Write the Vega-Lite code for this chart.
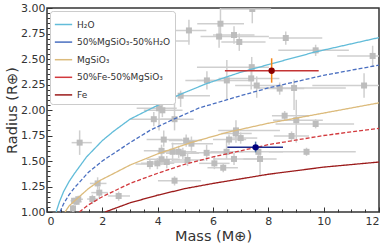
{
  "$schema": "https://vega.github.io/schema/vega-lite/v6.json",
  "width": 332,
  "height": 204,
  "autosize": {"type": "none"},
  "padding": {"left": 47, "top": 8, "right": 12, "bottom": 35},
  "config": {
    "font": "DejaVu Sans",
    "view": {"stroke": "#333333", "strokeWidth": 1.5},
    "axis": {"labelColor": "#333333", "titleColor": "#333333", "labelFontSize": 11, "titleFontSize": 14.5, "titleFontWeight": "normal", "grid": false, "domain": false, "tickColor": "#333333"}
  },
  "datasets": {
    "planets": [
      {"m": 6.27, "mlo": 5.43, "mhi": 7.12, "r": 2.846, "rlo": 2.69, "rhi": 3.05},
      {"m": 6.22, "mlo": 5.55, "mhi": 8.02, "r": 2.72, "rlo": 2.61, "rhi": 2.85},
      {"m": 6.76, "mlo": 6.0, "mhi": 7.5, "r": 2.735, "rlo": 2.65, "rhi": 2.82},
      {"m": 6.95, "mlo": 6.3, "mhi": 7.9, "r": 2.667, "rlo": 2.58, "rhi": 2.75},
      {"m": 7.42, "mlo": 6.27, "mhi": 8.1, "r": 2.99, "rlo": 2.85, "rhi": 3.1},
      {"m": 5.13, "mlo": 4.49, "mhi": 5.76, "r": 2.78, "rlo": 2.64, "rhi": 2.885},
      {"m": 4.16, "mlo": 3.7, "mhi": 5.15, "r": 2.676, "rlo": 2.52, "rhi": 2.85},
      {"m": 8.63, "mlo": 8.02, "mhi": 9.95, "r": 2.706, "rlo": 2.64, "rhi": 2.77},
      {"m": 9.71, "mlo": 8.36, "mhi": 10.91, "r": 2.585, "rlo": 2.53, "rhi": 2.64},
      {"m": 11.77, "mlo": 10.49, "mhi": 12.5, "r": 2.53, "rlo": 2.43, "rhi": 2.63},
      {"m": 7.40, "mlo": 5.42, "mhi": 8.02, "r": 2.42, "rlo": 2.28, "rhi": 2.52},
      {"m": 7.38, "mlo": 6.2, "mhi": 8.4, "r": 2.31, "rlo": 2.2, "rhi": 2.4},
      {"m": 6.50, "mlo": 5.41, "mhi": 7.46, "r": 2.29, "rlo": 2.10, "rhi": 2.49},
      {"m": 5.78, "mlo": 5.0, "mhi": 6.6, "r": 2.29, "rlo": 2.2, "rhi": 2.38},
      {"m": 7.58, "mlo": 6.8, "mhi": 8.5, "r": 2.24, "rlo": 2.12, "rhi": 2.33},
      {"m": 8.41, "mlo": 7.9, "mhi": 9.3, "r": 2.21, "rlo": 2.15, "rhi": 2.27},
      {"m": 8.93, "mlo": 7.6, "mhi": 10.8, "r": 2.216, "rlo": 2.0, "rhi": 2.30},
      {"m": 11.46, "mlo": 9.59, "mhi": 12.5, "r": 2.24, "rlo": 2.12, "rhi": 2.36},
      {"m": 3.66, "mlo": 3.12, "mhi": 4.33, "r": 2.196, "rlo": 2.13, "rhi": 2.25},
      {"m": 4.83, "mlo": 4.14, "mhi": 5.89, "r": 2.14, "rlo": 2.03, "rhi": 2.19},
      {"m": 4.05, "mlo": 3.24, "mhi": 4.69, "r": 2.017, "rlo": 1.80, "rhi": 2.13},
      {"m": 4.17, "mlo": 3.5, "mhi": 4.9, "r": 1.997, "rlo": 1.93, "rhi": 2.07},
      {"m": 3.86, "mlo": 3.0, "mhi": 4.81, "r": 1.91, "rlo": 1.84, "rhi": 1.98},
      {"m": 4.61, "mlo": 4.1, "mhi": 5.3, "r": 1.91, "rlo": 1.80, "rhi": 2.196},
      {"m": 8.59, "mlo": 8.13, "mhi": 9.47, "r": 1.944, "rlo": 1.90, "rhi": 1.99},
      {"m": 9.01, "mlo": 8.17, "mhi": 9.97, "r": 1.90, "rlo": 1.68, "rhi": 2.10},
      {"m": 9.71, "mlo": 8.26, "mhi": 11.1, "r": 1.863, "rlo": 1.82, "rhi": 1.91},
      {"m": 8.84, "mlo": 8.2, "mhi": 9.47, "r": 1.745, "rlo": 1.70, "rhi": 1.79},
      {"m": 6.83, "mlo": 6.19, "mhi": 8.42, "r": 1.80, "rlo": 1.68, "rhi": 1.90},
      {"m": 6.82, "mlo": 6.3, "mhi": 7.4, "r": 1.77, "rlo": 1.72, "rhi": 1.83},
      {"m": 7.0, "mlo": 6.5, "mhi": 7.6, "r": 1.725, "rlo": 1.67, "rhi": 1.78},
      {"m": 6.58, "mlo": 6.0, "mhi": 7.2, "r": 1.71, "rlo": 1.66, "rhi": 1.76},
      {"m": 5.22, "mlo": 4.5, "mhi": 6.0, "r": 1.67, "rlo": 1.60, "rhi": 1.74},
      {"m": 5.03, "mlo": 4.4, "mhi": 5.6, "r": 1.70, "rlo": 1.64, "rhi": 1.76},
      {"m": 4.22, "mlo": 3.6, "mhi": 4.9, "r": 1.71, "rlo": 1.64, "rhi": 1.80},
      {"m": 1.18, "mlo": 0.89, "mhi": 1.62, "r": 1.68, "rlo": 1.56, "rhi": 1.80},
      {"m": 4.14, "mlo": 3.5, "mhi": 4.7, "r": 1.60, "rlo": 1.54, "rhi": 1.66},
      {"m": 4.54, "mlo": 4.0, "mhi": 5.2, "r": 1.59, "rlo": 1.50, "rhi": 1.68},
      {"m": 4.76, "mlo": 4.2, "mhi": 5.4, "r": 1.59, "rlo": 1.53, "rhi": 1.65},
      {"m": 4.91, "mlo": 4.3, "mhi": 5.5, "r": 1.575, "rlo": 1.52, "rhi": 1.63},
      {"m": 4.14, "mlo": 3.6, "mhi": 4.8, "r": 1.517, "rlo": 1.46, "rhi": 1.57},
      {"m": 4.33, "mlo": 3.8, "mhi": 5.0, "r": 1.49, "rlo": 1.43, "rhi": 1.55},
      {"m": 3.72, "mlo": 3.2, "mhi": 4.3, "r": 1.47, "rlo": 1.42, "rhi": 1.52},
      {"m": 3.99, "mlo": 3.4, "mhi": 4.6, "r": 1.477, "rlo": 1.42, "rhi": 1.53},
      {"m": 5.08, "mlo": 4.5, "mhi": 5.7, "r": 1.51, "rlo": 1.45, "rhi": 1.57},
      {"m": 5.77, "mlo": 5.2, "mhi": 6.4, "r": 1.58, "rlo": 1.50, "rhi": 1.66},
      {"m": 6.49, "mlo": 5.9, "mhi": 7.1, "r": 1.59, "rlo": 1.52, "rhi": 1.70},
      {"m": 7.64, "mlo": 6.87, "mhi": 8.53, "r": 1.59, "rlo": 1.53, "rhi": 1.65},
      {"m": 9.38, "mlo": 8.02, "mhi": 11.16, "r": 1.59, "rlo": 1.55, "rhi": 1.63},
      {"m": 6.05, "mlo": 5.5, "mhi": 6.6, "r": 1.477, "rlo": 1.42, "rhi": 1.54},
      {"m": 6.76, "mlo": 6.0, "mhi": 7.6, "r": 1.52, "rlo": 1.46, "rhi": 1.58},
      {"m": 6.37, "mlo": 5.8, "mhi": 6.9, "r": 1.434, "rlo": 1.39, "rhi": 1.48},
      {"m": 7.70, "mlo": 7.1, "mhi": 8.3, "r": 1.52, "rlo": 1.36, "rhi": 1.61},
      {"m": 4.61, "mlo": 4.01, "mhi": 5.57, "r": 1.307, "rlo": 1.26, "rhi": 1.35},
      {"m": 1.83, "mlo": 1.55, "mhi": 2.15, "r": 1.28, "rlo": 1.22, "rhi": 1.34},
      {"m": 1.89, "mlo": 1.6, "mhi": 2.2, "r": 1.19, "rlo": 1.13, "rhi": 1.25},
      {"m": 2.59, "mlo": 2.2, "mhi": 3.0, "r": 1.157, "rlo": 1.11, "rhi": 1.20},
      {"m": 1.64, "mlo": 1.45, "mhi": 1.85, "r": 1.127, "rlo": 1.08, "rhi": 1.17},
      {"m": 1.13, "mlo": 0.95, "mhi": 1.3, "r": 1.125, "rlo": 1.09, "rhi": 1.16},
      {"m": 1.07, "mlo": 0.9, "mhi": 1.25, "r": 1.10, "rlo": 1.07, "rhi": 1.13},
      {"m": 0.98, "mlo": 0.85, "mhi": 1.12, "r": 1.11, "rlo": 1.08, "rhi": 1.14},
      {"m": 0.94, "mlo": 0.85, "mhi": 1.05, "r": 1.036, "rlo": 1.0, "rhi": 1.07}
    ],
    "models": [
      {"model": "H₂O", "m": 0.33, "r": 1.0}, {"model": "H₂O", "m": 0.45, "r": 1.10}, {"model": "H₂O", "m": 0.6, "r": 1.20},
      {"model": "H₂O", "m": 0.8, "r": 1.30}, {"model": "H₂O", "m": 1.0, "r": 1.38}, {"model": "H₂O", "m": 1.43, "r": 1.54},
      {"model": "H₂O", "m": 2.0, "r": 1.70}, {"model": "H₂O", "m": 2.4, "r": 1.79}, {"model": "H₂O", "m": 3.0, "r": 1.91},
      {"model": "H₂O", "m": 3.73, "r": 2.01}, {"model": "H₂O", "m": 4.83, "r": 2.155}, {"model": "H₂O", "m": 5.78, "r": 2.26},
      {"model": "H₂O", "m": 7.0, "r": 2.37}, {"model": "H₂O", "m": 8.0, "r": 2.445}, {"model": "H₂O", "m": 9.71, "r": 2.57},
      {"model": "H₂O", "m": 12.0, "r": 2.71},
      {"model": "50%MgSiO₃-50%H₂O", "m": 0.47, "r": 1.0}, {"model": "50%MgSiO₃-50%H₂O", "m": 0.6, "r": 1.08},
      {"model": "50%MgSiO₃-50%H₂O", "m": 0.8, "r": 1.17}, {"model": "50%MgSiO₃-50%H₂O", "m": 1.0, "r": 1.24},
      {"model": "50%MgSiO₃-50%H₂O", "m": 1.5, "r": 1.39}, {"model": "50%MgSiO₃-50%H₂O", "m": 2.0, "r": 1.50},
      {"model": "50%MgSiO₃-50%H₂O", "m": 3.0, "r": 1.68}, {"model": "50%MgSiO₃-50%H₂O", "m": 3.72, "r": 1.80},
      {"model": "50%MgSiO₃-50%H₂O", "m": 4.5, "r": 1.90}, {"model": "50%MgSiO₃-50%H₂O", "m": 5.5, "r": 2.02},
      {"model": "50%MgSiO₃-50%H₂O", "m": 7.0, "r": 2.14}, {"model": "50%MgSiO₃-50%H₂O", "m": 8.0, "r": 2.216},
      {"model": "50%MgSiO₃-50%H₂O", "m": 10.0, "r": 2.34}, {"model": "50%MgSiO₃-50%H₂O", "m": 12.0, "r": 2.44},
      {"model": "MgSiO₃", "m": 0.65, "r": 1.0}, {"model": "MgSiO₃", "m": 0.8, "r": 1.06}, {"model": "MgSiO₃", "m": 1.0, "r": 1.11},
      {"model": "MgSiO₃", "m": 1.5, "r": 1.23}, {"model": "MgSiO₃", "m": 1.92, "r": 1.31}, {"model": "MgSiO₃", "m": 2.5, "r": 1.39},
      {"model": "MgSiO₃", "m": 3.0, "r": 1.46}, {"model": "MgSiO₃", "m": 4.0, "r": 1.57}, {"model": "MgSiO₃", "m": 5.2, "r": 1.68},
      {"model": "MgSiO₃", "m": 6.5, "r": 1.78}, {"model": "MgSiO₃", "m": 8.0, "r": 1.87}, {"model": "MgSiO₃", "m": 10.0, "r": 1.97},
      {"model": "MgSiO₃", "m": 12.0, "r": 2.07},
      {"model": "50%Fe-50%MgSiO₃", "m": 1.17, "r": 1.0}, {"model": "50%Fe-50%MgSiO₃", "m": 1.5, "r": 1.07},
      {"model": "50%Fe-50%MgSiO₃", "m": 2.0, "r": 1.15}, {"model": "50%Fe-50%MgSiO₃", "m": 3.0, "r": 1.28},
      {"model": "50%Fe-50%MgSiO₃", "m": 4.0, "r": 1.38}, {"model": "50%Fe-50%MgSiO₃", "m": 5.0, "r": 1.47},
      {"model": "50%Fe-50%MgSiO₃", "m": 6.0, "r": 1.54}, {"model": "50%Fe-50%MgSiO₃", "m": 8.0, "r": 1.66},
      {"model": "50%Fe-50%MgSiO₃", "m": 10.0, "r": 1.75}, {"model": "50%Fe-50%MgSiO₃", "m": 12.0, "r": 1.82},
      {"model": "Fe", "m": 2.1, "r": 1.0}, {"model": "Fe", "m": 2.5, "r": 1.04}, {"model": "Fe", "m": 3.0, "r": 1.09},
      {"model": "Fe", "m": 4.0, "r": 1.165}, {"model": "Fe", "m": 5.0, "r": 1.23}, {"model": "Fe", "m": 6.0, "r": 1.28},
      {"model": "Fe", "m": 8.0, "r": 1.37}, {"model": "Fe", "m": 10.0, "r": 1.44}, {"model": "Fe", "m": 12.0, "r": 1.49}
    ],
    "highlights": [
      {"name": "red", "m": 8.12, "mlo": 6.43, "mhi": 9.82, "r": 2.385, "rlo": 2.268, "rhi": 2.507},
      {"name": "blue", "m": 7.54, "mlo": 6.52, "mhi": 8.53, "r": 1.634, "rlo": 1.585, "rhi": 1.69}
    ]
  },
  "layer": [
    {
      "data": {"name": "planets"},
      "mark": {"type": "rule", "color": "#cfcfcf", "strokeWidth": 1.5, "clip": true},
      "encoding": {
        "x": {"field": "mlo", "type": "quantitative", "scale": {"domain": [0, 12], "nice": false},
          "axis": {"title": "Mass (M⊕)", "orient": "bottom", "values": [0, 2, 4, 6, 8, 10, 12], "tickSize": -5, "tickWidth": 1, "labelPadding": 8, "titlePadding": 3}},
        "x2": {"field": "mhi"},
        "y": {"field": "r", "type": "quantitative", "scale": {"domain": [1, 3], "nice": false, "zero": false},
          "axis": {"title": "Radius (R⊕)", "orient": "left", "values": [1, 1.25, 1.5, 1.75, 2, 2.25, 2.5, 2.75, 3], "format": ".2f", "tickSize": -5, "tickWidth": 1, "labelPadding": 7, "titlePadding": 1}}
      }
    },
    {
      "data": {"name": "planets"},
      "mark": {"type": "rule", "color": "#cfcfcf", "strokeWidth": 1.5, "clip": true},
      "encoding": {
        "x": {"field": "m", "type": "quantitative",
          "axis": {"title": null, "orient": "bottom", "labels": false, "tickSize": -3, "tickWidth": 1,
            "values": [0.5, 1, 1.5, 2.5, 3, 3.5, 4.5, 5, 5.5, 6.5, 7, 7.5, 8.5, 9, 9.5, 10.5, 11, 11.5]}},
        "y": {"field": "rlo", "type": "quantitative",
          "axis": {"title": null, "orient": "left", "labels": false, "tickSize": -3, "tickWidth": 1,
            "values": [1.05, 1.1, 1.15, 1.2, 1.3, 1.35, 1.4, 1.45, 1.55, 1.6, 1.65, 1.7, 1.8, 1.85, 1.9, 1.95, 2.05, 2.1, 2.15, 2.2, 2.3, 2.35, 2.4, 2.45, 2.55, 2.6, 2.65, 2.7, 2.8, 2.85, 2.9, 2.95]}},
        "y2": {"field": "rhi"}
      }
    },
    {
      "data": {"name": "planets"},
      "mark": {"type": "point", "shape": "square", "filled": true, "color": "#bdbdbd", "opacity": 1, "size": 36, "clip": true},
      "encoding": {
        "x": {"field": "m", "type": "quantitative", "axis": null},
        "y": {"field": "r", "type": "quantitative", "axis": null}
      }
    },
    {
      "data": {"name": "models"},
      "mark": {"type": "line", "strokeWidth": 1.3, "clip": true},
      "encoding": {
        "x": {"field": "m", "type": "quantitative", "axis": null},
        "y": {"field": "r", "type": "quantitative", "axis": null},
        "color": {"field": "model", "type": "nominal",
          "scale": {"domain": ["H₂O", "50%MgSiO₃-50%H₂O", "MgSiO₃", "50%Fe-50%MgSiO₃", "Fe"],
                    "range": ["#62bcd9", "#4a6fc0", "#dcbb7c", "#d2393d", "#9b1a1a"]},
          "legend": {"title": null, "orient": "none", "legendX": 3, "legendY": 3, "symbolType": "stroke", "symbolSize": 300, "symbolStrokeWidth": 1.5,
                     "labelFontSize": 9, "labelColor": "#333333", "rowPadding": 2.6, "padding": 4, "strokeColor": "#cccccc", "fillColor": "#ffffff", "cornerRadius": 3, "labelOffset": 4}},
        "strokeDash": {"field": "model", "type": "nominal",
          "scale": {"domain": ["H₂O", "50%MgSiO₃-50%H₂O", "MgSiO₃", "50%Fe-50%MgSiO₃", "Fe"],
                    "range": [[1, 0], [4, 2], [1, 0], [4, 2], [1, 0]]},
          "legend": {"title": null, "orient": "none", "legendX": 3, "legendY": 3, "symbolType": "stroke", "symbolSize": 300, "symbolStrokeWidth": 1.5,
                     "labelFontSize": 9, "labelColor": "#333333", "rowPadding": 2.6, "padding": 4, "strokeColor": "#cccccc", "fillColor": "#ffffff", "cornerRadius": 3, "labelOffset": 4}}
      }
    },
    {
      "data": {"name": "highlights"},
      "mark": {"type": "rule", "strokeWidth": 1.5},
      "encoding": {
        "x": {"field": "mlo", "type": "quantitative", "axis": null},
        "x2": {"field": "mhi"},
        "y": {"field": "r", "type": "quantitative", "axis": null},
        "color": {"field": "name", "type": "nominal", "scale": {"domain": ["red", "blue"], "range": ["#c43434", "#1c2c8c"]}, "legend": null}
      }
    },
    {
      "data": {"name": "highlights"},
      "mark": {"type": "rule", "strokeWidth": 1.5},
      "encoding": {
        "x": {"field": "m", "type": "quantitative", "axis": null},
        "y": {"field": "rlo", "type": "quantitative", "axis": null},
        "y2": {"field": "rhi"},
        "color": {"field": "name", "type": "nominal", "legend": null}
      }
    },
    {
      "data": {"name": "highlights"},
      "mark": {"type": "point", "shape": "circle", "filled": true, "opacity": 1, "size": 40},
      "encoding": {
        "x": {"field": "m", "type": "quantitative", "axis": null},
        "y": {"field": "r", "type": "quantitative", "axis": null},
        "fill": {"field": "name", "type": "nominal", "scale": {"domain": ["red", "blue"], "range": ["#8b0000", "#00007f"]}, "legend": null}
      }
    }
  ],
  "resolve": {"scale": {"color": "independent"}, "axis": {"x": "independent", "y": "independent"}}
}
